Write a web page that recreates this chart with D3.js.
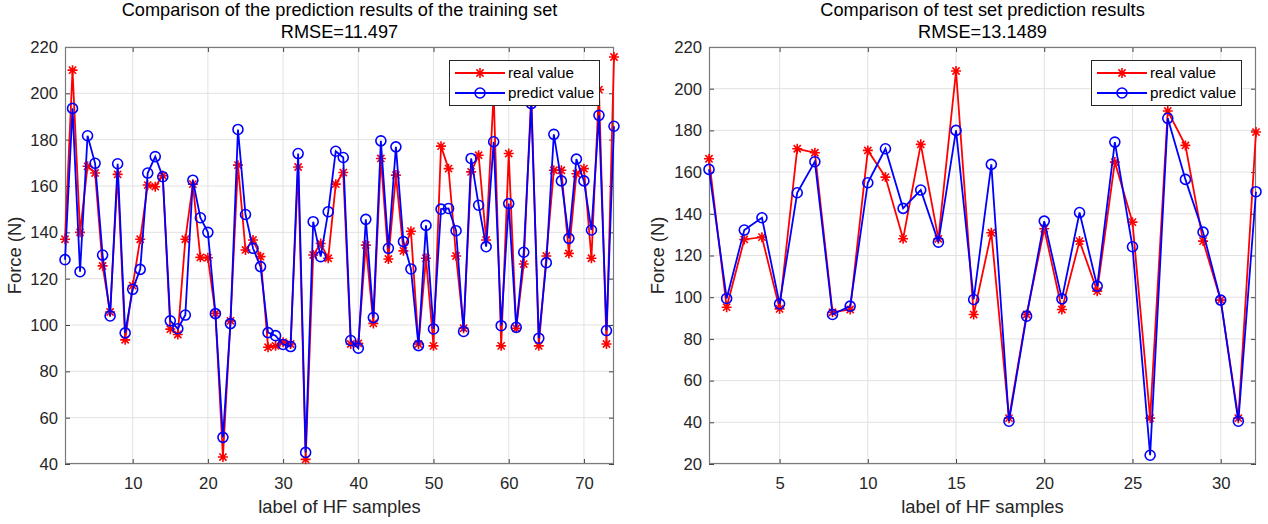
<!DOCTYPE html>
<html><head><meta charset="utf-8">
<script src="https://cdn.jsdelivr.net/npm/d3@7"></script>
<style>
html,body{margin:0;padding:0;background:#fff;}
svg{display:block;font-family:"Liberation Sans",Arial,sans-serif;}
</style></head><body>
<svg id="c" width="1268" height="524"></svg>
<script>
// ---- data ----
const trainReal = [137,210,140,168.5,165.6,125.5,105.6,165,93.6,117,137,160.4,159.7,164.5,98.2,95.9,137,160.8,129.2,129,
  105,43,101.8,169,132.4,136.7,129.5,90.4,91,92.6,91.8,168.2,42,130.2,135.2,128.8,160.8,165.8,91.8,92.1,
  134.5,100.7,171.9,128.5,164.7,132,140.5,91.8,128.8,91,177.2,167.5,129.8,98.6,166.1,173.3,136.7,200,91,174,
  98.6,126.3,200,91,129.8,166.8,166.8,130.9,165.3,167.5,128.8,201.6,91.8,215.7];
const trainPred = [128.2,193.5,123,181.7,169.8,130.2,103.9,169.6,96.6,115.4,124,165.6,172.7,164,101.8,98.4,104.3,162.5,146.3,140,
  104.9,51.5,100.6,184.4,147.7,133.1,125.2,96.7,95.4,91.6,90.7,174,45,144.6,129.5,148.9,175,172.3,93.3,90,
  145.6,103.2,179.5,133.1,176.9,136,124.2,91.1,143,98.3,150,150.3,140.7,97.2,171.9,151.7,133.8,179.1,99.7,152.4,
  99,131.4,195.6,94.3,126.9,182.3,162.2,137.4,171.6,162.2,141,190.5,97.6,185.8];
const testReal = [166.4,95.2,127.7,128.8,94.4,171.2,169.3,92.8,94.1,170.4,157.6,128,173.3,128,208.5,91.7,
  130.9,42,91.7,132.8,94.1,126.9,102.9,164.8,136,42,189.3,172.8,126.9,98.6,42,179.2];
const testPred = [161.3,99.4,132.2,138.1,96.8,150.1,165,91.7,95.7,154.9,171.2,142.6,151.4,126.4,180,98.9,
  163.7,40.5,90.9,136.5,99.2,140.6,105.3,174.4,124.2,24.2,185.8,156.5,131.2,98.6,40.5,150.6];
const trainXTicks = [10,20,30,40,50,60,70];
const trainYTicks = [40,60,80,100,120,140,160,180,200,220];
const testXTicks = [5,10,15,20,25,30];
const testYTicks = [20,40,60,80,100,120,140,160,180,200,220];
const seriesNames = ["real value","predict value"];
const trainTitle = ["Comparison of the prediction results of the training set","RMSE=11.497"];
const testTitle = ["Comparison of test set prediction results","RMSE=13.1489"];
const xLabel = "label of HF samples";
const yLabel = "Force (N)";

// ---- layout ----
const panels = [
  {left:65, right:614, top:47, bottom:464, yDom:[40,220], real:trainReal, pred:trainPred, xt:trainXTicks, yt:trainYTicks, title:trainTitle, ylabX:15},
  {left:709, right:1256, top:47, bottom:464, yDom:[20,220], real:testReal, pred:testPred, xt:testXTicks, yt:testYTicks, title:testTitle, ylabX:658}
];
const RED="#ff0000", BLUE="#0000ff", TXT="#262626";
const starPath = "M-5,0H5M0,-5V5M-3.6,-3.6L3.6,3.6M-3.6,3.6L3.6,-3.6";
const svg = d3.select("#c");

panels.forEach(p => {
  const n = p.real.length;
  const x = d3.scaleLinear().domain([1, n]).range([p.left, p.right]);
  const y = d3.scaleLinear().domain(p.yDom).range([p.bottom, p.top]);
  const g = svg.append("g");
  // grid
  g.append("g").selectAll("line").data(p.xt).join("line")
    .attr("x1", d=>x(d)).attr("x2", d=>x(d)).attr("y1", p.top).attr("y2", p.bottom)
    .attr("stroke", "#e2e2e2").attr("stroke-width", 1);
  g.append("g").selectAll("line").data(p.yt).join("line")
    .attr("x1", p.left).attr("x2", p.right).attr("y1", d=>y(d)).attr("y2", d=>y(d))
    .attr("stroke", "#e2e2e2").attr("stroke-width", 1);
  // axes
  const styleAxis = sel => {
    sel.select(".domain").remove();
    sel.selectAll(".tick line").attr("stroke", "#404040");
    sel.selectAll(".tick text").attr("fill", TXT).style("font-size", "16.7px");
  };
  g.append("g").attr("transform", `translate(0,${p.bottom})`)
    .call(d3.axisBottom(x).tickValues(p.xt).tickSizeInner(-5).tickSizeOuter(0).tickPadding(13)).call(styleAxis);
  g.append("g").attr("transform", `translate(0,${p.top})`)
    .call(d3.axisTop(x).tickValues(p.xt).tickSizeInner(-5).tickSizeOuter(0).tickFormat("")).call(styleAxis);
  g.append("g").attr("transform", `translate(${p.left},0)`)
    .call(d3.axisLeft(y).tickValues(p.yt).tickSizeInner(-5).tickSizeOuter(0).tickPadding(7)).call(styleAxis);
  g.append("g").attr("transform", `translate(${p.right},0)`)
    .call(d3.axisRight(y).tickValues(p.yt).tickSizeInner(-5).tickSizeOuter(0).tickFormat("")).call(styleAxis);
  g.selectAll("g").attr("font-family", null);
  // box
  g.append("rect").attr("x", p.left+0.5).attr("y", p.top+0.5)
    .attr("width", p.right-p.left-1).attr("height", p.bottom-p.top-1)
    .attr("fill", "none").attr("stroke", "#7a7a7a").attr("stroke-width", 1.2);
  // series
  const line = d3.line().x((d,i)=>x(i+1)).y(d=>y(d));
  g.append("path").datum(p.real).attr("d", line).attr("fill","none").attr("stroke",RED).attr("stroke-width",1.8);
  g.append("g").selectAll("path").data(p.real).join("path")
    .attr("transform",(d,i)=>`translate(${x(i+1)},${y(d)})`).attr("d", starPath)
    .attr("stroke",RED).attr("stroke-width",1.6).attr("fill","none");
  g.append("path").datum(p.pred).attr("d", line).attr("fill","none").attr("stroke",BLUE).attr("stroke-width",1.8);
  g.append("g").selectAll("circle").data(p.pred).join("circle")
    .attr("cx",(d,i)=>x(i+1)).attr("cy",d=>y(d)).attr("r",5)
    .attr("stroke",BLUE).attr("stroke-width",1.6).attr("fill","none");
  // titles
  const cx = (p.left+p.right)/2;
  g.append("text").attr("x",cx).attr("y",16).attr("text-anchor","middle").attr("fill","#000")
    .style("font-size","18.2px").text(p.title[0]);
  g.append("text").attr("x",cx).attr("y",38).attr("text-anchor","middle").attr("fill","#000")
    .style("font-size","18.2px").text(p.title[1]);
  // labels
  g.append("text").attr("x",cx).attr("y",513).attr("text-anchor","middle").attr("fill",TXT)
    .style("font-size","18.4px").text(xLabel);
  g.append("text").attr("transform",`translate(${p.ylabX},${(p.top+p.bottom)/2}) rotate(-90)`)
    .attr("text-anchor","middle").attr("dy","0.35em").attr("fill",TXT)
    .style("font-size","18.4px").text(yLabel);
  // legend
  const lw = 150, lh = 45;
  const lx = p.right - 15 - lw, ly = p.top + 13;
  const lg = g.append("g").attr("transform",`translate(${lx},${ly})`);
  lg.append("rect").attr("x",0.5).attr("y",0.5).attr("width",lw).attr("height",lh)
    .attr("fill","#fff").attr("stroke","#262626").attr("stroke-width",1);
  const rows = [{name:seriesNames[0], c:RED, m:"star"},{name:seriesNames[1], c:BLUE, m:"circle"}];
  rows.forEach((r,i) => {
    const ry = 13 + i*20;
    lg.append("line").attr("x1",6).attr("x2",56).attr("y1",ry).attr("y2",ry).attr("stroke",r.c).attr("stroke-width",1.8);
    if (r.m==="star") lg.append("path").attr("d",starPath).attr("transform",`translate(31,${ry})`).attr("stroke",r.c).attr("stroke-width",1.6).attr("fill","none");
    else lg.append("circle").attr("cx",31).attr("cy",ry).attr("r",5).attr("stroke",r.c).attr("stroke-width",1.6).attr("fill","none");
    lg.append("text").attr("x",59).attr("y",ry).attr("dy","0.35em").attr("fill","#000")
      .style("font-size","15.2px").text(r.name);
  });
});
</script>
</body></html>
